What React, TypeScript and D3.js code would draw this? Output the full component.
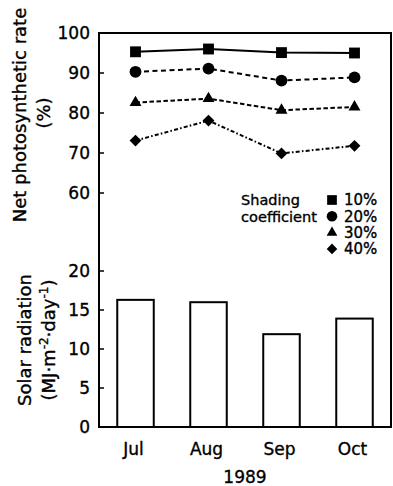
import React from "react";
import * as d3 from "d3";

const months = ["Jul", "Aug", "Sep", "Oct"];
const shading10 = [95.3, 96.0, 95.1, 95.0];
const shading20 = [90.3, 91.1, 88.1, 88.9];
const shading30 = [82.6, 83.6, 80.7, 81.5];
const shading40 = [73.1, 78.1, 69.9, 71.8];
const solarRadiation = [16.3, 16.0, 11.9, 13.9];
const topTicks = [100, 90, 80, 70, 60];
const bottomTicks = [20, 15, 10, 5, 0];
const legendLabels = ["10%", "20%", "30%", "40%"];

const W = 393;
const H = 486;
const left = 99;
const right = 391;
const top = 33;
const bottom = 427;

const FONT = "'DejaVu Sans', 'Liberation Sans', Arial, sans-serif";
const TS = { stroke: "#000", strokeWidth: 0.35 };

export default function App() {
  const x = d3.scaleBand<string>().domain(months).range([left, right]).paddingInner(0).paddingOuter(0);
  const cx = (m: string) => (x(m) as number) + x.bandwidth() / 2;
  const yTop = d3.scaleLinear().domain([60, 100]).range([193, top]);
  const yBot = d3.scaleLinear().domain([0, 20]).range([bottom, 271]);

  const series = [
    { values: shading10, dash: "none", sym: "square" },
    { values: shading20, dash: "5,3.5", sym: "circle" },
    { values: shading30, dash: "4.5,2.5", sym: "triangle" },
    { values: shading40, dash: "4,2.2,1.6,2.2", sym: "diamond" },
  ];

  const symPath = (sym: string, scale: number) => {
    if (sym === "square") return d3.symbol().type(d3.symbolSquare).size(118 * scale)();
    if (sym === "circle") return d3.symbol().type(d3.symbolCircle).size(110 * scale)();
    if (sym === "triangle") return d3.symbol().type(d3.symbolTriangle).size(62 * scale)();
    return d3.symbol().type(d3.symbolSquare).size(70 * scale)();
  };

  const line = d3
    .line<number>()
    .x((_, i) => cx(months[i]))
    .y((d) => yTop(d));

  const barW = x.bandwidth() * 0.5;

  return (
    <svg
      width={W}
      height={H}
      style={{ position: "absolute", left: 0, top: 0, background: "#fff" }}
      fontFamily={FONT}
    >
      <rect x={0} y={0} width={W} height={H} fill="#fff" />
      {solarRadiation.map((v, i) => (
        <rect
          key={"b" + i}
          x={cx(months[i]) - barW / 2}
          y={yBot(v)}
          width={barW}
          height={yBot(0) - yBot(v)}
          fill="#fff"
          stroke="#000"
          strokeWidth={2}
        />
      ))}
      <rect x={left} y={top} width={right - left} height={bottom - top} fill="none" stroke="#000" strokeWidth={2} />
      {topTicks.map((t) => (
        <g key={"tt" + t}>
          <line x1={left} x2={left + 5} y1={yTop(t)} y2={yTop(t)} stroke="#000" strokeWidth={1.5} />
          <text x={left - 9} y={yTop(t)} dy="0.36em" textAnchor="end" fontSize={17} {...TS}>
            {t}
          </text>
        </g>
      ))}
      {bottomTicks.map((t) => (
        <g key={"bt" + t}>
          <line x1={left} x2={left + 5} y1={yBot(t)} y2={yBot(t)} stroke="#000" strokeWidth={1.5} />
          <text x={left - 9} y={yBot(t)} dy="0.36em" textAnchor="end" fontSize={17} {...TS}>
            {t}
          </text>
        </g>
      ))}
      {series.map((s, si) => (
        <g key={"s" + si}>
          <path d={line(s.values) as string} fill="none" stroke="#000" strokeWidth={2} strokeDasharray={s.dash} />
          {s.values.map((v, i) => (
            <path
              key={i}
              d={symPath(s.sym, 1) as string}
              transform={`translate(${cx(months[i])},${yTop(v)})${s.sym === "diamond" ? " rotate(45)" : ""}`}
              fill="#000"
            />
          ))}
        </g>
      ))}
      <text x={241} y={205} fontSize={14.5} {...TS}>Shading</text>
      <text x={241} y={222} fontSize={14.5} textLength={76} lengthAdjust="spacingAndGlyphs" {...TS}>coefficient</text>
      {series.map((s, i) => {
        const ly = 200 + i * 16.3;
        return (
          <g key={"l" + i}>
            <path
              d={symPath(s.sym, 0.8) as string}
              transform={`translate(332,${ly})${s.sym === "diamond" ? " rotate(45)" : ""}`}
              fill="#000"
            />
            <text x={344} y={ly} dy="0.36em" fontSize={15} {...TS}>
              {legendLabels[i]}
            </text>
          </g>
        );
      })}
      {months.map((m) => (
        <text key={"x" + m} x={cx(m) - 2} y={455} textAnchor="middle" fontSize={17} {...TS}>
          {m}
        </text>
      ))}
      <text x={(left + right) / 2} y={483} textAnchor="middle" fontSize={17} {...TS}>
        1989
      </text>
      <text transform="translate(26,115) rotate(-90)" textAnchor="middle" fontSize={18} {...TS}>
        Net photosynthetic rate
      </text>
      <text transform="translate(50,113) rotate(-90)" textAnchor="middle" fontSize={18} {...TS}>
        (%)
      </text>
      <text transform="translate(31,340) rotate(-90)" textAnchor="middle" fontSize={18} {...TS}>
        Solar radiation
      </text>
      <text transform="translate(55,340) rotate(-90)" textAnchor="middle" fontSize={18} {...TS}>
        (MJ·m
        <tspan dy={-7} fontSize={12}>-2</tspan>
        <tspan dy={7}>·day</tspan>
        <tspan dy={-7} fontSize={12}>-1</tspan>
        <tspan dy={7}>)</tspan>
      </text>
    </svg>
  );
}
